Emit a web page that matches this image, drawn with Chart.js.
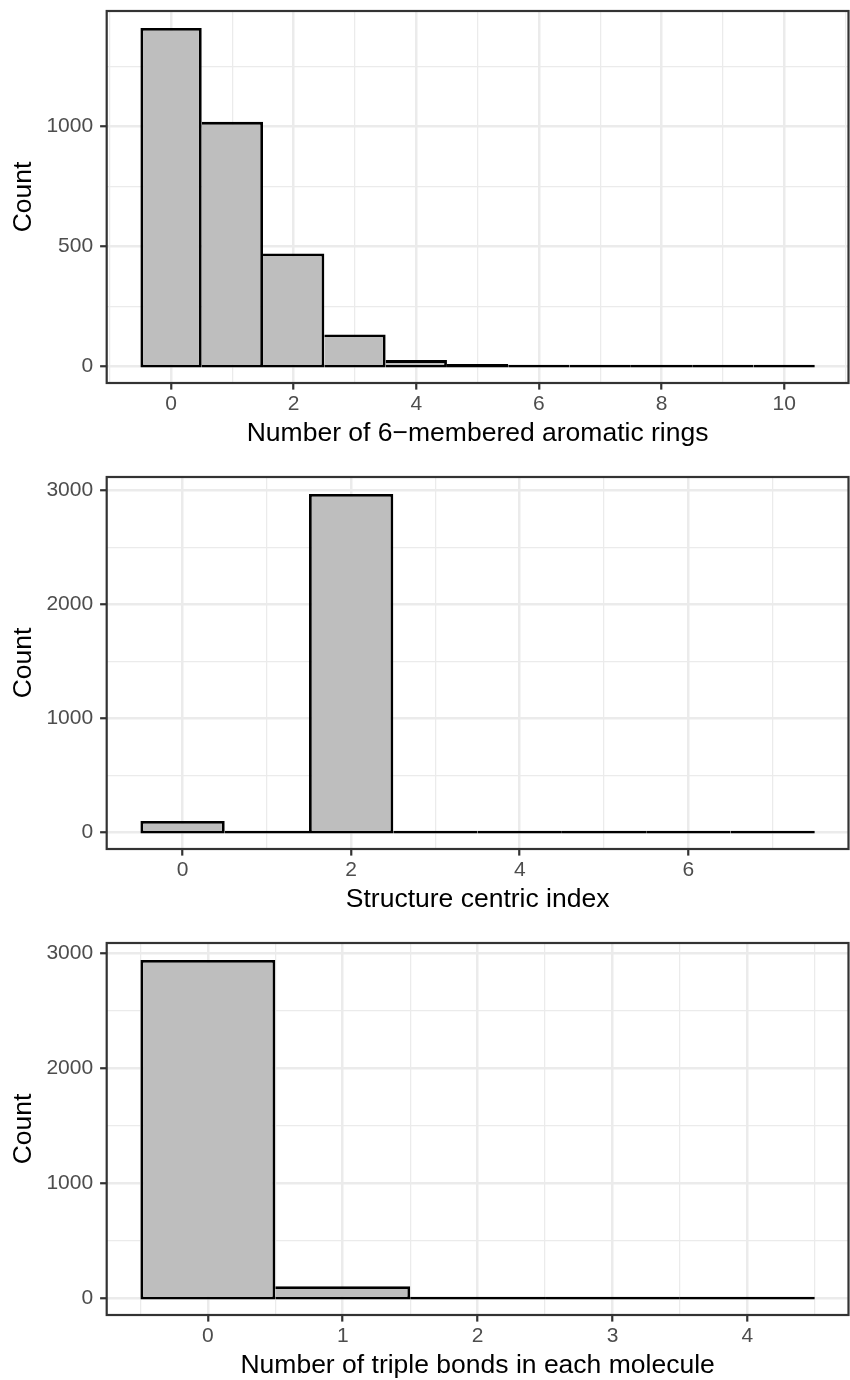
<!DOCTYPE html>
<html>
<head>
<meta charset="utf-8">
<script src="https://cdn.jsdelivr.net/npm/chart.js@4.4.1/dist/chart.umd.min.js"></script>
<style>
  html, body { margin: 0; padding: 0; background: #fff; overflow: hidden; }
  .panel { position: absolute; left: 0; width: 850px; height: 460px; }
</style>
</head>
<body>
<div class="panel" style="top:0px"><canvas id="ringsChart" width="850" height="460"></canvas></div>
<div class="panel" style="top:466px"><canvas id="centricChart" width="850" height="460"></canvas></div>
<div class="panel" style="top:932px"><canvas id="tripleChart" width="850" height="460"></canvas></div>
<script>
// 6-membered aromatic rings
const ringBins = [0, 1, 2, 3, 4, 5, 6, 7, 8, 9, 10];
const ringCounts = [1411, 1019, 470, 132, 25, 9, 5, 1, 1, 1, 4];
const ringXMajor = [0, 2, 4, 6, 8, 10];
const ringXMinor = [-1, 1, 3, 5, 7, 9, 11];
const ringYMajor = [0, 500, 1000];
const ringYMinor = [250, 750, 1250];

// structure centric index
const centricBins = [0, 1, 2, 3, 4, 5, 6, 7];
const centricCounts = [98, 0, 2970, 2, 1, 1, 1, 8];
const centricXMajor = [0, 2, 4, 6];
const centricXMinor = [1, 3, 5, 7];
const centricYMajor = [0, 1000, 2000, 3000];
const centricYMinor = [500, 1500, 2500];

// triple bonds per molecule
const tripleBins = [0, 1, 2, 3, 4];
const tripleCounts = [2945, 104, 12, 2, 2];
const tripleXMajor = [0, 1, 2, 3, 4];
const tripleXMinor = [-0.5, 0.5, 1.5, 2.5, 3.5, 4.5];
const tripleYMajor = [0, 1000, 2000, 3000];
const tripleYMinor = [500, 1500, 2500];

Chart.defaults.font.family = '"Liberation Sans", Arial, Helvetica, sans-serif';

const PAD_TOP = 11;
const X_AXIS_HEIGHT = 77;
const PLOT_HEIGHT = 460 - PAD_TOP - X_AXIS_HEIGHT;
const BAR_LINE = 2.8;

// full box around the plotting area, like theme_bw
const panelBorder = {
  id: 'panelBorder',
  afterDraw(chart) {
    const { ctx, chartArea: a } = chart;
    ctx.save();
    ctx.strokeStyle = '#333333';
    ctx.lineWidth = 2.2;
    ctx.strokeRect(a.left, a.top, a.right - a.left, a.bottom - a.top);
    ctx.restore();
  }
};

const isIn = (list, v) => list.some(t => Math.abs(t - v) < 1e-9);

function axisGrid(major) {
  const isMajor = c => c.tick && isIn(major, c.tick.value);
  return {
    color: '#EBEBEB',
    lineWidth: c => isMajor(c) ? 2.5 : 1.25,
    tickColor: c => isMajor(c) ? '#333333' : 'rgba(0,0,0,0)',
    tickWidth: 2.2,
    tickLength: 6.6,
    offset: false
  };
}

function drawHistogram(id, bins, counts, xMajor, xMinor, yMajor, yMinor, xTitle) {
  const top = Math.max(...counts);
  const yMin = -0.05 * top;
  const yMax = 1.05 * top;
  const lo = bins[0] - 0.5;
  const hi = bins[bins.length - 1] + 0.5;
  const padX = (hi - lo) * 0.05;
  const xTicks = xMajor.concat(xMinor).sort((a, b) => a - b);
  const yTicks = yMajor.concat(yMinor).sort((a, b) => a - b);
  // drop the bar base by half an outline so the bottom edge straddles zero
  const barBase = -(BAR_LINE / 2) * (yMax - yMin) / PLOT_HEIGHT;

  new Chart(document.getElementById(id), {
    type: 'bar',
    data: {
      datasets: [{
        data: bins.map((b, i) => ({ x: b, y: counts[i] })),
        base: barBase,
        backgroundColor: '#BEBEBE',
        borderColor: '#000000',
        borderWidth: BAR_LINE,
        // shared edges drawn once, by the taller neighbour on the left
        borderSkipped: c => {
          const i = c.dataIndex;
          return i > 0 && counts[i - 1] >= counts[i] ? 'left' : false;
        },
        minBarLength: BAR_LINE,
        inflateAmount: 0,
        // width from neighbouring bins, so bars touch
        barThickness: 'flex',
        barPercentage: 1,
        categoryPercentage: 1
      }]
    },
    options: {
      responsive: false,
      animation: false,
      layout: { padding: { left: 4, right: 1.5, top: PAD_TOP, bottom: 0 } },
      plugins: { legend: { display: false }, tooltip: { enabled: false } },
      scales: {
        x: {
          type: 'linear',
          min: lo - padX,
          max: hi + padX,
          offset: false,
          afterBuildTicks: axis => { axis.ticks = xTicks.map(v => ({ value: v })); },
          afterFit: axis => {
            axis.height = X_AXIS_HEIGHT;
            axis.paddingLeft = 0;
            axis.paddingRight = 0;
          },
          grid: axisGrid(xMajor),
          border: { display: false },
          ticks: {
            autoSkip: false,
            maxRotation: 0,
            padding: 2,
            color: '#4D4D4D',
            font: { size: 21 },
            callback: v => isIn(xMajor, v) ? String(v) : ''
          },
          title: {
            display: true,
            text: xTitle,
            color: '#000000',
            font: { size: 26.5 },
            padding: { top: 0, bottom: 10.2 }
          }
        },
        y: {
          min: yMin,
          max: yMax,
          afterBuildTicks: axis => { axis.ticks = yTicks.map(v => ({ value: v })); },
          afterFit: axis => {
            axis.width = 102.7;
            axis.paddingTop = 0;
            axis.paddingBottom = 0;
          },
          grid: axisGrid(yMajor),
          border: { display: false },
          ticks: {
            autoSkip: false,
            padding: 7,
            color: '#4D4D4D',
            font: { size: 21 },
            callback: v => isIn(yMajor, v) ? String(v) : ''
          },
          title: {
            display: true,
            text: 'Count',
            color: '#000000',
            font: { size: 26.5 },
            padding: { top: 3.8, bottom: 0 }
          }
        }
      }
    },
    plugins: [panelBorder]
  });
}

drawHistogram('ringsChart', ringBins, ringCounts, ringXMajor, ringXMinor, ringYMajor, ringYMinor,
  'Number of 6\u2212membered aromatic rings');
drawHistogram('centricChart', centricBins, centricCounts, centricXMajor, centricXMinor, centricYMajor, centricYMinor,
  'Structure centric index');
drawHistogram('tripleChart', tripleBins, tripleCounts, tripleXMajor, tripleXMinor, tripleYMajor, tripleYMinor,
  'Number of triple bonds in each molecule');
</script>
</body>
</html>
